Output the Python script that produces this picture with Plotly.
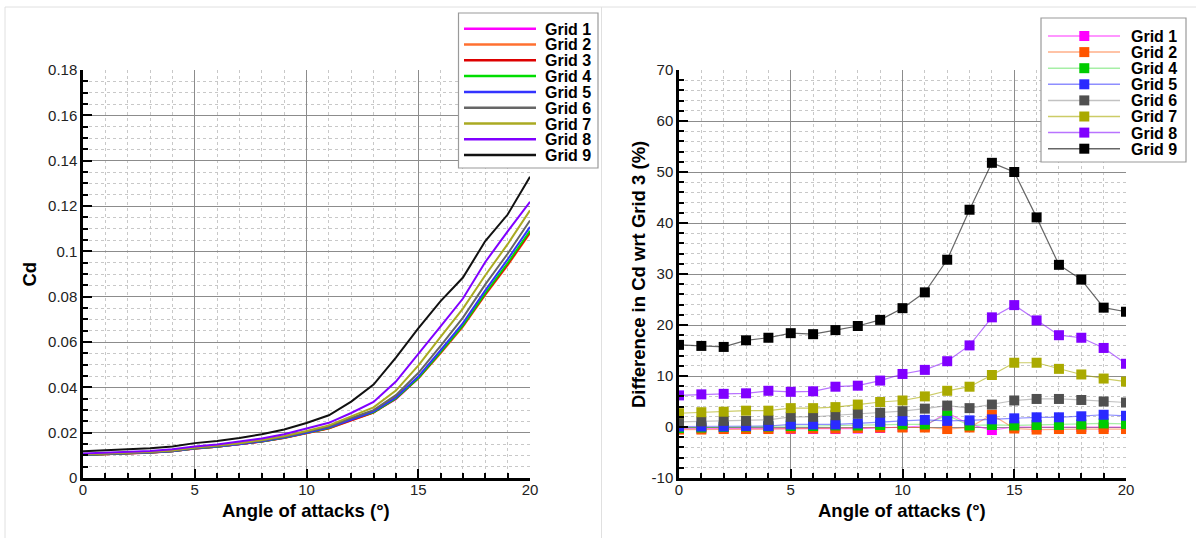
import plotly.graph_objects as go

# ---------------- data ----------------
angles = list(range(0, 21))

cd_grid1 = [0.01017, 0.01047, 0.01087, 0.01117, 0.01176, 0.01295, 0.01374, 0.01474, 0.01605, 0.01766, 0.01970,
            0.02194, 0.02611, 0.02904, 0.03479, 0.04400, 0.05530, 0.06710, 0.08110, 0.09420, 0.10840]
cd_grid2 = [0.01015, 0.01045, 0.01086, 0.01116, 0.01175, 0.01296, 0.01376, 0.01476, 0.01607, 0.01768, 0.01968,
            0.02188, 0.02530, 0.02887, 0.03584, 0.04387, 0.05502, 0.06683, 0.08078, 0.09382, 0.10797]
cd_grid3 = [0.01020, 0.01050, 0.01090, 0.01120, 0.01180, 0.01300, 0.01380, 0.01480, 0.01610, 0.01770, 0.01970,
            0.02190, 0.02540, 0.02890, 0.03500, 0.04400, 0.05530, 0.06710, 0.08110, 0.09420, 0.10840]
cd_grid4 = [0.01018, 0.01049, 0.01090, 0.01121, 0.01181, 0.01303, 0.01383, 0.01484, 0.01615, 0.01777, 0.01980,
            0.02201, 0.02598, 0.02899, 0.03514, 0.04413, 0.05552, 0.06737, 0.08151, 0.09486, 0.10905]
cd_grid5 = [0.01021, 0.01051, 0.01091, 0.01122, 0.01182, 0.01307, 0.01387, 0.01487, 0.01621, 0.01788, 0.01994,
            0.02221, 0.02570, 0.02928, 0.03553, 0.04475, 0.05635, 0.06837, 0.08280, 0.09646, 0.11078]
cd_grid6 = [0.01030, 0.01062, 0.01103, 0.01133, 0.01197, 0.01326, 0.01408, 0.01514, 0.01652, 0.01820, 0.02031,
            0.02269, 0.02647, 0.02997, 0.03654, 0.04629, 0.05834, 0.07079, 0.08540, 0.09891, 0.11360]
cd_grid7 = [0.01048, 0.01080, 0.01123, 0.01156, 0.01218, 0.01348, 0.01431, 0.01538, 0.01681, 0.01857, 0.02072,
            0.02321, 0.02720, 0.03118, 0.03857, 0.04954, 0.06227, 0.07475, 0.08945, 0.10315, 0.11805]
cd_grid8 = [0.01083, 0.01117, 0.01161, 0.01194, 0.01264, 0.01390, 0.01477, 0.01597, 0.01740, 0.01931, 0.02175,
            0.02435, 0.02868, 0.03352, 0.04253, 0.05452, 0.06686, 0.07918, 0.09529, 0.10880, 0.12184]
cd_grid9 = [0.01184, 0.01217, 0.01261, 0.01310, 0.01387, 0.01539, 0.01631, 0.01761, 0.01929, 0.02142, 0.02429,
            0.02768, 0.03373, 0.04121, 0.05313, 0.06600, 0.07803, 0.08844, 0.10454, 0.11624, 0.13290]

diff_grid1 = [-0.3, -0.3, -0.3, -0.3, -0.3, -0.4, -0.4, -0.4, -0.3, -0.2, 0.0, 0.2, 2.8, 0.5, -0.6, 0.0, 0.0, 0.0, 0.0, 0.0, 0.0]
diff_grid2 = [-0.5, -0.5, -0.4, -0.4, -0.4, -0.3, -0.3, -0.3, -0.2, -0.1, -0.1, -0.1, -0.4, -0.1, 2.4, -0.3, -0.5, -0.4, -0.4, -0.4, -0.4]
diff_grid4 = [-0.2, -0.1, 0.0, 0.1, 0.1, 0.2, 0.2, 0.3, 0.3, 0.4, 0.5, 0.5, 2.3, 0.3, 0.4, 0.3, 0.4, 0.4, 0.5, 0.7, 0.6]
diff_grid5 = [0.1, 0.1, 0.1, 0.2, 0.2, 0.5, 0.5, 0.5, 0.7, 1.0, 1.2, 1.4, 1.2, 1.3, 1.5, 1.7, 1.9, 1.9, 2.1, 2.4, 2.2]
diff_grid6 = [1.0, 1.1, 1.2, 1.2, 1.4, 2.0, 2.0, 2.3, 2.6, 2.8, 3.1, 3.6, 4.2, 3.7, 4.4, 5.2, 5.5, 5.5, 5.3, 5.0, 4.8]
diff_grid7 = [2.7, 2.9, 3.0, 3.2, 3.2, 3.7, 3.7, 3.9, 4.4, 4.9, 5.2, 6.0, 7.1, 7.9, 10.2, 12.6, 12.6, 11.4, 10.3, 9.5, 8.9]
diff_grid8 = [6.2, 6.4, 6.5, 6.6, 7.1, 6.9, 7.0, 7.9, 8.1, 9.1, 10.4, 11.2, 12.9, 16.0, 21.5, 23.9, 20.9, 18.0, 17.5, 15.5, 12.4]
diff_grid9 = [16.1, 15.9, 15.7, 17.0, 17.5, 18.4, 18.2, 19.0, 19.8, 21.0, 23.3, 26.4, 32.8, 42.6, 51.8, 50.0, 41.1, 31.8, 28.9, 23.4, 22.6]

left_names = ["Grid 1", "Grid 2", "Grid 3", "Grid 4", "Grid 5", "Grid 6", "Grid 7", "Grid 8", "Grid 9"]
left_series = [cd_grid1, cd_grid2, cd_grid3, cd_grid4, cd_grid5, cd_grid6, cd_grid7, cd_grid8, cd_grid9]
right_names = ["Grid 1", "Grid 2", "Grid 4", "Grid 5", "Grid 6", "Grid 7", "Grid 8", "Grid 9"]
right_series = [diff_grid1, diff_grid2, diff_grid4, diff_grid5, diff_grid6, diff_grid7, diff_grid8, diff_grid9]

right_ticks = [-10, 0, 10, 20, 30, 40, 50, 60, 70]
right_ticktext = ["-10", "0", "10", "20", "30", "40", "50", "60", "70"]

# ---------------- styles ----------------
left_colors = {"Grid 1": "#FF00FF", "Grid 2": "#FF7030", "Grid 3": "#DD0000", "Grid 4": "#00DD00",
               "Grid 5": "#3333FF", "Grid 6": "#666666", "Grid 7": "#AAAA22", "Grid 8": "#8000FF",
               "Grid 9": "#111111"}
right_marker_colors = {"Grid 1": "#FF00FF", "Grid 2": "#FF5500", "Grid 4": "#00CC00", "Grid 5": "#2A2AFF",
                       "Grid 6": "#505050", "Grid 7": "#AAAA00", "Grid 8": "#8000FF", "Grid 9": "#000000"}
right_line_colors = {"Grid 1": "rgba(255,0,255,0.55)", "Grid 2": "rgba(255,110,40,0.55)",
                     "Grid 4": "rgba(0,210,0,0.35)", "Grid 5": "rgba(50,50,255,0.55)",
                     "Grid 6": "rgba(80,80,80,0.35)", "Grid 7": "rgba(170,170,0,0.6)",
                     "Grid 8": "rgba(128,0,255,0.55)", "Grid 9": "rgba(0,0,0,0.6)"}

W, H = 1198, 538
FONT = "Liberation Sans, Arial, Helvetica, sans-serif"


def px(x):
    return x / W


def py(y):
    return 1 - y / H


fig = go.Figure()

for name, ys in zip(left_names, left_series):
    fig.add_trace(go.Scatter(x=angles, y=ys, mode="lines", name=name,
                             line=dict(color=left_colors[name], width=2),
                             xaxis="x", yaxis="y", showlegend=False))

for name, ys in zip(right_names, right_series):
    fig.add_trace(go.Scatter(x=angles, y=ys, mode="lines+markers", name=name,
                             line=dict(color=right_line_colors[name], width=1.2),
                             marker=dict(symbol="square", size=10, color=right_marker_colors[name],
                                         line=dict(width=0)),
                             xaxis="x2", yaxis="y2", showlegend=False))

ydom = [py(478), py(70)]
common_axis = dict(
    showline=True, linecolor="black", linewidth=2.5, mirror=False,
    ticks="inside", ticklen=9, tickwidth=2, tickcolor="black",
    showgrid=True, gridcolor="#8c8c8c", gridwidth=1, zeroline=False,
    tickfont=dict(family=FONT, size=15, color="#222"),
    automargin=False,
)
minor_x = dict(dtick=1, ticks="inside", ticklen=5, tickwidth=1.5, tickcolor="black",
               showgrid=True, gridcolor="#c8c8c8", griddash="dot", gridwidth=1)

fig.update_layout(
    width=W, height=H, autosize=False,
    margin=dict(l=0, r=0, t=0, b=0, pad=0),
    paper_bgcolor="white", plot_bgcolor="white",
    showlegend=False,
    xaxis=dict(domain=[px(83), px(530)], range=[0, 20], dtick=5, tick0=0, anchor="y",
               ticklabelstandoff=-4, minor=minor_x, **common_axis),
    yaxis=dict(domain=ydom, range=[0, 0.18], dtick=0.02, tick0=0, anchor="x",
               minor=dict(dtick=0.005, ticks="inside", ticklen=5, tickwidth=1.5, tickcolor="black",
                          showgrid=True, gridcolor="#c8c8c8", griddash="dot", gridwidth=1),
               **common_axis),
    xaxis2=dict(domain=[px(679), px(1126)], range=[0, 20], dtick=5, tick0=0, anchor="y2",
                ticklabelstandoff=-4, minor=minor_x, **common_axis),
    yaxis2=dict(domain=ydom, range=[-10, 70], tickmode="array", tickvals=right_ticks,
                ticktext=right_ticktext, anchor="x2",
                minor=dict(dtick=2, ticks="inside", ticklen=5, tickwidth=1.5, tickcolor="black",
                           showgrid=True, gridcolor="#c8c8c8", griddash="dot", gridwidth=1),
                **common_axis),
)

shapes = []
annotations = []

# panel borders
shapes.append(dict(type="line", xref="paper", yref="paper", x0=px(5), x1=px(1196), y0=py(7), y1=py(7),
                   line=dict(color="#e0e0e0", width=1), layer="below"))
shapes.append(dict(type="line", xref="paper", yref="paper", x0=px(5), x1=px(5), y0=py(7), y1=py(538),
                   line=dict(color="#e0e0e0", width=1), layer="below"))
shapes.append(dict(type="line", xref="paper", yref="paper", x0=px(601.5), x1=px(601.5), y0=py(7), y1=py(538),
                   line=dict(color="#e0e0e0", width=1), layer="below"))

# axis titles
title_font = dict(family=FONT, size=18.5, color="black")
annotations.append(dict(text="<b>Angle of attacks (°)</b>", xref="paper", yref="paper",
                        x=px(306), y=py(510), xanchor="center", yanchor="middle",
                        showarrow=False, font=title_font, borderpad=0))
annotations.append(dict(text="<b>Angle of attacks (°)</b>", xref="paper", yref="paper",
                        x=px(902), y=py(510), xanchor="center", yanchor="middle",
                        showarrow=False, font=title_font, borderpad=0))
annotations.append(dict(text="<b>Cd</b>", xref="paper", yref="paper", textangle=-90,
                        x=px(28.5), y=py(274), xanchor="center", yanchor="middle",
                        showarrow=False, font=title_font))
annotations.append(dict(text="<b>Difference in Cd wrt Grid 3 (%)</b>", xref="paper", yref="paper",
                        textangle=-90, x=px(638), y=py(275), xanchor="center", yanchor="middle",
                        showarrow=False, font=title_font))

legend_font = dict(family=FONT, size=16, color="black")

# left legend (manual)
shapes.append(dict(type="rect", xref="paper", yref="paper", x0=px(458.5), x1=px(598), y0=py(13), y1=py(168),
                   fillcolor="white", line=dict(color="#9a9a9a", width=1.2), layer="above"))
for i, name in enumerate(left_names):
    yy = 28.7 + i * 15.8
    shapes.append(dict(type="line", xref="paper", yref="paper", x0=px(464), x1=px(536), y0=py(yy), y1=py(yy),
                       line=dict(color=left_colors[name], width=2.5), layer="above"))
    annotations.append(dict(text="<b>" + name + "</b>", xref="paper", yref="paper", x=px(593), y=py(yy + 0.5),
                            xanchor="right", yanchor="middle", showarrow=False, font=legend_font))

# right legend (manual)
shapes.append(dict(type="rect", xref="paper", yref="paper", x0=px(1041), x1=px(1186), y0=py(18), y1=py(162),
                   fillcolor="white", line=dict(color="#9a9a9a", width=1.2), layer="above"))
for i, name in enumerate(right_names):
    yy = 36 + i * 16.1
    shapes.append(dict(type="line", xref="paper", yref="paper", x0=px(1048), x1=px(1120), y0=py(yy), y1=py(yy),
                       line=dict(color=right_line_colors[name], width=1.5), layer="above"))
    shapes.append(dict(type="rect", xref="paper", yref="paper", x0=px(1079.3), x1=px(1089.3),
                       y0=py(yy - 5), y1=py(yy + 5), fillcolor=right_marker_colors[name],
                       line=dict(width=0), layer="above"))
    annotations.append(dict(text="<b>" + name + "</b>", xref="paper", yref="paper", x=px(1179), y=py(yy + 0.5),
                            xanchor="right", yanchor="middle", showarrow=False, font=legend_font))

fig.update_layout(shapes=shapes, annotations=annotations)

fig.write_html("out.html")
